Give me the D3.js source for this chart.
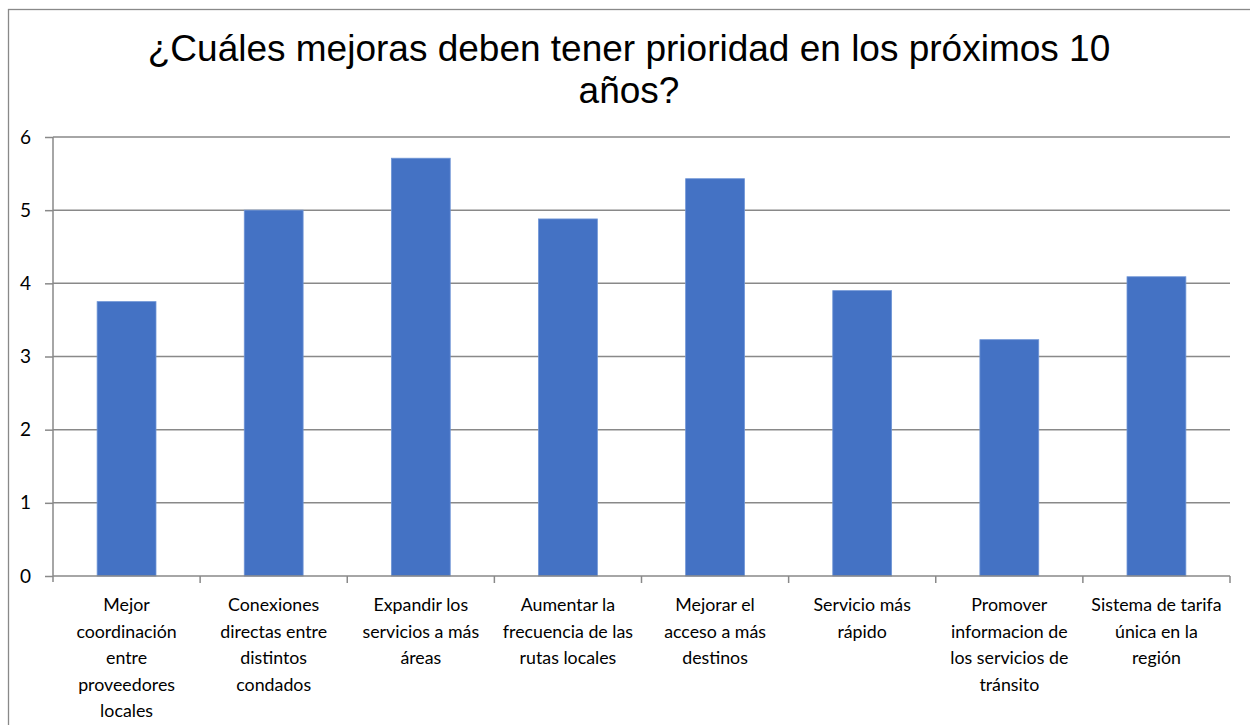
<!DOCTYPE html>
<html><head><meta charset="utf-8">
<script src="https://cdn.jsdelivr.net/npm/d3@7"></script>
<style>body{margin:0;background:#fff}svg{display:block}</style>
</head><body>
<svg id="c" width="1250" height="725"></svg>
<script>
const categories = [
  ["Mejor","coordinación","entre","proveedores","locales"],
  ["Conexiones","directas entre","distintos","condados"],
  ["Expandir los","servicios a más","áreas"],
  ["Aumentar la","frecuencia de las","rutas locales"],
  ["Mejorar el","acceso a más","destinos"],
  ["Servicio más","rápido"],
  ["Promover","informacion de","los servicios de","tránsito"],
  ["Sistema de tarifa","única en la","región"]
];
const values = [3.75, 5.0, 5.71, 4.88, 5.43, 3.9, 3.23, 4.09];
const yTicks = [0,1,2,3,4,5,6];
const titleLines = ["¿Cuáles mejoras deben tener prioridad en los próximos 10","años?"];

const svg = d3.select("#c");
const L = 53, R = 1230, T = 137, B = 576;
const ids = d3.range(categories.length);
const x = d3.scaleBand().domain(ids).range([L, R]).paddingInner(0.6).paddingOuter(0.3);
const xb = d3.scaleBand().domain(ids).range([L, R]);
const y = d3.scaleLinear().domain([0, 6]).range([B, T]);

// outer border
svg.append("rect").attr("x", 8.5).attr("y", 9.5).attr("width", 1300).attr("height", 800)
  .attr("fill", "none").attr("stroke", "#898989").attr("stroke-width", 1.3);

// title
svg.append("text").attr("x", 629).attr("y", 61).attr("text-anchor", "middle")
  .attr("font-family", "Liberation Sans, Arial, sans-serif").attr("font-size", 37).attr("fill", "#000")
  .selectAll("tspan").data(titleLines).join("tspan")
  .attr("x", 629).attr("dy", (d, i) => i ? 42 : 0).text(d => d);

// gridlines + y axis
const yAxis = d3.axisLeft(y).tickValues(yTicks).tickSize(8).tickPadding(14).tickFormat(d3.format("d"));
const ga = svg.append("g").attr("transform", `translate(${L},0)`).call(yAxis);
ga.select(".domain").remove();
ga.selectAll(".tick line").attr("stroke", "#898989").attr("stroke-width", 1.5);
ga.selectAll(".tick text").attr("font-family", "Lato, 'Open Sans', sans-serif").attr("font-size", 19).attr("fill", "#000");
svg.append("g").selectAll("line").data(yTicks.filter(d => d > 0)).join("line")
  .attr("x1", L).attr("x2", R).attr("y1", d => y(d)).attr("y2", d => y(d))
  .attr("stroke", "#898989").attr("stroke-width", 1.5);
svg.append("line").attr("x1", L).attr("x2", L).attr("y1", T).attr("y2", B + 6)
  .attr("stroke", "#898989").attr("stroke-width", 1.5);

// bars
svg.append("g").selectAll("rect").data(values).join("rect")
  .attr("x", (d, i) => x(i)).attr("width", x.bandwidth())
  .attr("y", d => y(d)).attr("height", d => B - y(d))
  .attr("fill", "#4472C4").attr("stroke", "#6f95d6").attr("stroke-width", 0.8);

// x axis
svg.append("line").attr("x1", L).attr("x2", R).attr("y1", B).attr("y2", B)
  .attr("stroke", "#898989").attr("stroke-width", 1.5);
const bounds = ids.map(i => xb(i)).concat([R]);
svg.append("g").selectAll("line").data(bounds.slice(1)).join("line")
  .attr("x1", d => d).attr("x2", d => d).attr("y1", B).attr("y2", B + 7)
  .attr("stroke", "#898989").attr("stroke-width", 1.5);

// category labels
const lab = svg.append("g").selectAll("text").data(categories).join("text")
  .attr("x", (d, i) => xb(i) + xb.bandwidth() / 2).attr("y", 611)
  .attr("text-anchor", "middle").attr("font-family", "Lato, 'Open Sans', sans-serif")
  .attr("font-size", 17.8).attr("fill", "#000");
lab.selectAll("tspan").data(d => d).join("tspan")
  .attr("x", function() { return this.parentNode.getAttribute("x"); })
  .attr("dy", (d, i) => i ? 26.6 : 0).text(d => d);
</script>
</body></html>
